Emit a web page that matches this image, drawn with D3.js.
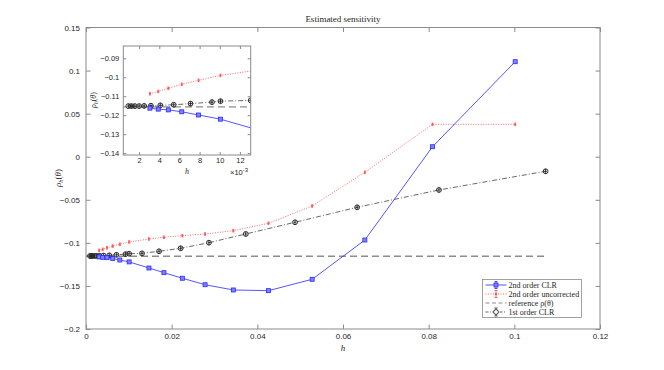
<!DOCTYPE html>
<html>
<head>
<meta charset="utf-8">
<script src="https://cdn.jsdelivr.net/npm/d3@7"></script>
<style>
  body { margin: 0; background: #fff; }
  svg text { fill: #262626; }
</style>
</head>
<body>
<svg id="chart" width="664" height="370"></svg>
<script>
// step size h and estimated sensitivity for each method
const hSecond = [0.00307, 0.0039, 0.0049, 0.00623, 0.0079, 0.01007, 0.0147, 0.0182, 0.0225, 0.0278, 0.0344, 0.0426, 0.0528, 0.0651, 0.0809, 0.1002];
const clr2 = [-0.1163, -0.1168, -0.1172, -0.1182, -0.1199, -0.1221, -0.1292, -0.1346, -0.1411, -0.1486, -0.1547, -0.1555, -0.1423, -0.0967, 0.0116, 0.1103];
const uncorr2 = [-0.1087, -0.1075, -0.1058, -0.1037, -0.1016, -0.0990, -0.0955, -0.0935, -0.0917, -0.0897, -0.0859, -0.0773, -0.0572, -0.0181, 0.0376, 0.0376];
const hFirst = [0.00093, 0.00123, 0.00157, 0.0020, 0.0025, 0.00317, 0.0041, 0.00543, 0.0071, 0.00923, 0.01007, 0.01307, 0.01705, 0.0221, 0.0287, 0.0373, 0.0488, 0.0633, 0.0824, 0.1073];
const clr1 = [-0.1152, -0.1152, -0.1152, -0.1152, -0.1151, -0.1150, -0.1148, -0.1145, -0.1139, -0.1131, -0.1126, -0.1122, -0.1098, -0.1063, -0.0998, -0.0897, -0.0761, -0.0587, -0.0386, -0.0169];
const refValue = -0.1156;
const refRange = [0, 0.1073];

const xTicks = [0, 0.02, 0.04, 0.06, 0.08, 0.1, 0.12];
const yTicks = [-0.2, -0.15, -0.1, -0.05, 0, 0.05, 0.1, 0.15];
const xTicksInset = [0.002, 0.004, 0.006, 0.008, 0.01, 0.012];
const yTicksInset = [-0.14, -0.13, -0.12, -0.11, -0.1, -0.09];
const legendLabels = ["2nd order CLR", "2nd order uncorrected", "reference \u03C1(\u03B8)", "1st order CLR"];

const svg = d3.select("#chart");
const sans = "'Liberation Sans', Arial, sans-serif";
const serif = "'Liberation Serif', 'DejaVu Serif', serif";
const axisColor = "#8a8a8a";

const blue = "#2a2aff", red = "#ff5555", dark = "#262626", grey = "#8c8c8c";

const series2 = hSecond.map((h, i) => ({h, clr: clr2[i], unc: uncorr2[i]}));
const series1 = hFirst.map((h, i) => ({h, v: clr1[i]}));

function drawPanel(g, x, y, opts) {
  const tick = opts.tick;
  const [x0, x1] = x.range();
  const [y0, y1] = y.range();

  g.append("rect")
    .attr("x", x0).attr("y", y1).attr("width", x1 - x0).attr("height", y0 - y1)
    .attr("fill", "#fff");

  const clipId = opts.id + "-clip";
  g.append("clipPath").attr("id", clipId)
    .append("rect").attr("x", x0).attr("y", y1).attr("width", x1 - x0).attr("height", y0 - y1);
  const plot = g.append("g").attr("clip-path", `url(#${clipId})`);

  // reference
  plot.append("path")
    .datum(opts.refExtent)
    .attr("fill", "none").attr("stroke", grey).attr("stroke-width", 1.4)
    .attr("stroke-dasharray", "7,4")
    .attr("d", d3.line().x(d => x(d)).y(() => y(refValue)));

  // 1st order CLR
  plot.append("path").datum(series1)
    .attr("fill", "none").attr("stroke", "#404040").attr("stroke-width", 0.8)
    .attr("stroke-dasharray", "5,2,1,2")
    .attr("d", d3.line().x(d => x(d.h)).y(d => y(d.v)));

  // 2nd order uncorrected
  plot.append("path").datum(series2)
    .attr("fill", "none").attr("stroke", red).attr("stroke-width", 0.9)
    .attr("stroke-dasharray", "1,1.5")
    .attr("d", d3.line().x(d => x(d.h)).y(d => y(d.unc)));

  // 2nd order CLR
  plot.append("path").datum(series2)
    .attr("fill", "none").attr("stroke", blue).attr("stroke-width", 0.8)
    .attr("d", d3.line().x(d => x(d.h)).y(d => y(d.clr)));

  const s = opts.marker;
  plot.append("g").selectAll("g").data(series1).join("g")
    .attr("transform", d => `translate(${x(d.h)},${y(d.v)})`)
    .call(m => {
      m.append("circle").attr("r", 2.4).attr("fill", "none").attr("stroke", dark).attr("stroke-width", 1);
      m.append("path").attr("d", "M0,-2.4V2.4M-1.2,0H1.2")
        .attr("stroke", dark).attr("stroke-width", 0.9);
    });

  plot.append("g").selectAll("g").data(series2).join("g")
    .attr("transform", d => `translate(${x(d.h)},${y(d.unc)})`)
    .call(m => {
      m.append("path").attr("d", "M0,-1.3V1.3M-1,-1.3H1M-1,1.3H1").attr("stroke", red).attr("stroke-width", 0.8);
      m.append("circle").attr("r", 1.1).attr("fill", red);
    });

  plot.append("g").selectAll("rect").data(series2).join("rect")
    .attr("x", d => x(d.h) - s / 2).attr("y", d => y(d.clr) - s / 2)
    .attr("width", s).attr("height", s)
    .attr("fill", "#8080ff").attr("stroke", blue).attr("stroke-width", 0.8);

  // axes with inward ticks
  const fs = opts.fontSize;
  const style = a => {
    a.select(".domain").remove();
    a.selectAll(".tick line").attr("stroke", axisColor);
    a.selectAll(".tick text").attr("font-family", sans).attr("font-size", fs).attr("fill", "#333");
  };
  g.append("g").attr("transform", `translate(0,${y0})`)
    .call(d3.axisBottom(x).tickValues(opts.xTicks).tickFormat(opts.xFormat).tickSize(-tick).tickPadding(opts.padX))
    .call(style);
  g.append("g").attr("transform", `translate(0,${y1})`)
    .call(d3.axisTop(x).tickValues(opts.xTicks).tickFormat("").tickSize(-tick))
    .call(style);
  g.append("g").attr("transform", `translate(${x0},0)`)
    .call(d3.axisLeft(y).tickValues(opts.yTicks).tickFormat(opts.yFormat).tickSize(-tick).tickPadding(opts.padY))
    .call(style);
  g.append("g").attr("transform", `translate(${x1},0)`)
    .call(d3.axisRight(y).tickValues(opts.yTicks).tickFormat("").tickSize(-tick))
    .call(style);

  g.append("rect")
    .attr("x", x0).attr("y", y1).attr("width", x1 - x0).attr("height", y0 - y1)
    .attr("fill", "none").attr("stroke", axisColor).attr("stroke-width", 1);
}

const fmt = d => d3.format("~g")(d);

// main axes
const x = d3.scaleLinear().domain([0, 0.12]).range([86, 600]);
const y = d3.scaleLinear().domain([-0.2, 0.15]).range([329, 27.5]);
const mainG = svg.append("g");
drawPanel(mainG, x, y, {
  id: "main", tick: 4.5, marker: 4, fontSize: 8, padX: 4, padY: 6,
  xTicks, yTicks, xFormat: fmt, yFormat: fmt, refExtent: refRange
});

svg.append("text").attr("x", 343).attr("y", 22).attr("text-anchor", "middle")
  .attr("font-family", serif).attr("font-size", 9).text("Estimated sensitivity");
svg.append("text").attr("x", 343).attr("y", 351).attr("text-anchor", "middle")
  .attr("font-family", serif).attr("font-style", "italic").attr("font-size", 9).text("h");

function rhoLabel(sel, cx, cy, size) {
  const t = sel.append("text").attr("transform", `translate(${cx},${cy}) rotate(-90)`)
    .attr("text-anchor", "middle").attr("font-family", serif).attr("font-size", size);
  t.append("tspan").attr("font-style", "italic").text("\u03C1");
  t.append("tspan").attr("font-style", "italic").attr("font-size", size * 0.7).attr("dy", size * 0.25).text("h");
  t.append("tspan").attr("dy", -size * 0.25).text("(");
  t.append("tspan").attr("font-style", "italic").text("\u03B8");
  t.append("tspan").text(")");
}
rhoLabel(svg, 61, 178, 9);

// inset axes
const xi = d3.scaleLinear().domain([0.00043, 0.01307]).range([123.3, 250.7]);
const yi = d3.scaleLinear().domain([-0.141, -0.0835]).range([155, 46]);
const insetG = svg.append("g");
drawPanel(insetG, xi, yi, {
  id: "inset", tick: 3, marker: 4, fontSize: 7.5, padX: 3, padY: 4,
  xTicks: xTicksInset, yTicks: yTicksInset,
  xFormat: d => d3.format("d")(Math.round(d * 1000)), yFormat: fmt, refExtent: [0, 0.02]
});
svg.append("text").attr("x", 187).attr("y", 174).attr("text-anchor", "middle")
  .attr("font-family", serif).attr("font-style", "italic").attr("font-size", 8).text("h");
const pow = svg.append("text").attr("x", 230).attr("y", 175)
  .attr("font-family", sans).attr("font-size", 7.5).attr("fill", "#333");
pow.append("tspan").text("\u00D710");
pow.append("tspan").attr("dy", -3).attr("font-size", 6).text("-3");
rhoLabel(svg, 96, 100, 8);

// legend
const lg = svg.append("g").attr("transform", "translate(482.5,279.5)");
lg.append("rect").attr("width", 99).attr("height", 38).attr("fill", "#fff")
  .attr("stroke", axisColor).attr("stroke-width", 0.8);
const rowY = d3.scalePoint().domain(legendLabels).range([5.5, 32.5]);
const sx0 = 3, sx1 = 24, smid = 13.5;
legendLabels.forEach((lab, i) => {
  const ry = rowY(lab);
  const row = lg.append("g").attr("transform", `translate(0,${ry})`);
  if (i === 0) {
    row.append("line").attr("x1", sx0).attr("x2", sx1).attr("stroke", blue).attr("stroke-width", 0.8);
    row.append("path").attr("d", `M${smid},-3.5V3.5M${smid - 1.5},-3.5H${smid + 1.5}M${smid - 1.5},3.5H${smid + 1.5}`).attr("stroke", blue).attr("stroke-width", 0.8);
    row.append("rect").attr("x", smid - 2).attr("y", -2).attr("width", 4).attr("height", 4)
      .attr("fill", "#8080ff").attr("stroke", blue).attr("stroke-width", 0.8);
  } else if (i === 1) {
    row.append("line").attr("x1", sx0).attr("x2", sx1).attr("stroke", red).attr("stroke-width", 0.9).attr("stroke-dasharray", "1,1.5");
    row.append("path").attr("d", `M${smid},-3.5V3.5M${smid - 1.5},-3.5H${smid + 1.5}M${smid - 1.5},3.5H${smid + 1.5}`).attr("stroke", red).attr("stroke-width", 0.9);
    row.append("circle").attr("cx", smid).attr("r", 1.2).attr("fill", red);
  } else if (i === 2) {
    row.append("line").attr("x1", sx0).attr("x2", sx1).attr("stroke", grey).attr("stroke-width", 1.2).attr("stroke-dasharray", "4,2.5");
  } else {
    row.append("line").attr("x1", sx0).attr("x2", sx1).attr("stroke", "#404040").attr("stroke-width", 0.8).attr("stroke-dasharray", "3,1.5,1,1.5");
    row.append("path").attr("d", `M${smid},-4V4M${smid - 1.5},-4H${smid + 1.5}M${smid - 1.5},4H${smid + 1.5}`).attr("stroke", dark).attr("stroke-width", 0.8);
    row.append("circle").attr("cx", smid).attr("r", 2.4).attr("fill", "#fff").attr("stroke", dark).attr("stroke-width", 0.9);
  }
  row.append("text").attr("x", 26).attr("y", 2.8)
    .attr("font-family", serif).attr("font-size", 8).text(lab);
});
</script>
</body>
</html>
